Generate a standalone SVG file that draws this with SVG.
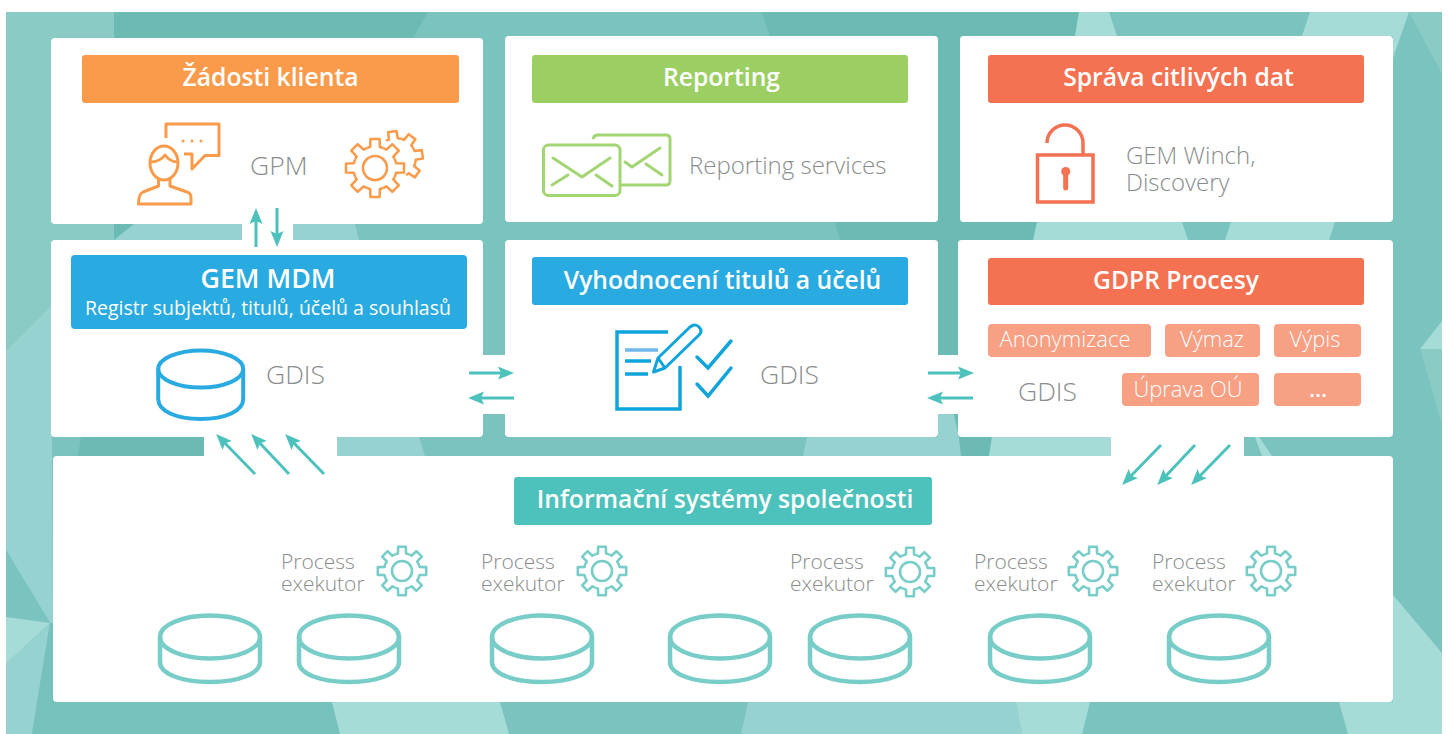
<svg xmlns="http://www.w3.org/2000/svg" xmlns:xlink="http://www.w3.org/1999/xlink" width="1448" height="734" viewBox="0 0 1448 734">
<style>
text{font-family:"Open Sans","Noto Sans","Liberation Sans",sans-serif}
.panel{fill:#fff}
.hd{font-size:24.700px;font-weight:600;fill:#fff;text-anchor:middle}
.hb{font-size:26.800px}
.sub{font-size:19.500px;fill:#fff;text-anchor:middle}
.pill{font-size:22px;fill:#fff;text-anchor:middle;font-weight:300}
.gr{font-size:26.500px;font-weight:300;fill:#8a8d8d}
.gs{font-size:24px}
.pr{font-size:21px;font-weight:300;fill:#8a8d8d}
.d{fill:#6cbab4}.m{fill:#8acbc6}.l{fill:#96d2cf}.x{fill:#a5dcd8}
.or{fill:none;stroke:#f99b4b;stroke-width:3;stroke-linejoin:round}
.gn{fill:none;stroke:#a3d572;stroke-width:3;stroke-linecap:round;stroke-linejoin:round}
.bl{fill:none;stroke:#0fa5dc;stroke-width:3.500;stroke-linejoin:miter}
.rd{fill:none;stroke:#f47152;stroke-width:3.500}
.db{fill:none;stroke:#78cdc8;stroke-width:4.500}
.tg{fill:none;stroke:#78cdc8;stroke-width:2.600;stroke-linejoin:round}
.ar{fill:none;stroke:#4dc1bb;stroke-width:3;marker-end:url(#head)}
</style>
<defs>
<marker id="head" markerUnits="userSpaceOnUse" markerWidth="18" markerHeight="16" viewBox="0 0 18 16" refX="8" refY="8" orient="auto"><path d="M0 1.500L16 8L0 14.500L3 8Z" fill="#4dc1bb"/></marker>
<path id="tooth" d="M-6.890-16.630A18 18 0 0 1-4.050-17.540L-3.830-24.200H3.830L4.050-17.540A18 18 0 0 1 6.890-16.630"/>
<g id="gear">
<use xlink:href="#tooth"/><use xlink:href="#tooth" transform="rotate(45)"/><use xlink:href="#tooth" transform="rotate(90)"/><use xlink:href="#tooth" transform="rotate(135)"/><use xlink:href="#tooth" transform="rotate(180)"/><use xlink:href="#tooth" transform="rotate(225)"/><use xlink:href="#tooth" transform="rotate(270)"/><use xlink:href="#tooth" transform="rotate(315)"/>
<circle r="10"/>
</g>
<g id="cyl"><ellipse cx="0" cy="0" rx="50" ry="21.500"/><path d="M-50 0V25C-50 37 -28 45 0 45S50 37 50 25V0"/></g>
</defs>
<g id="background">
<rect x="6" y="12" width="1436" height="722" fill="#7bc3bf"/>
<polygon class="m" points="6,12 114,12 114,240 52,305 6,351"/>
<polygon class="d" points="114,12 428,12 413,38 114,38"/>
<polygon class="d" points="114,224 134,224 114,240"/>
<polygon class="l" points="134,224 355,224 359,240 114,240"/>
<polygon class="l" points="6,351 52,305 52,456 53,623 50,623 6,550"/>
<polygon fill="#7bc3bf" points="6,550 50,623 6,617"/>
<polygon class="x" points="6,617 50,623 6,664"/>
<polygon class="l" points="6,664 50,623 32,734 6,734"/>
<polygon fill="#76c1bc" points="50,623 54,623 54,702 332,702 340,734 32,734"/>
<polygon class="d" points="81,437 204,437 204,456 78,456"/>
<polygon class="l" points="337,437 419,437 425,456 337,456"/>
<polygon class="x" points="332,702 500,702 509,734 340,734"/>
<polygon class="l" points="748,702 1016,702 1022,734 741,734"/>
<polygon class="x" points="1016,702 1090,702 1082,734 1022,734"/>
<polygon class="x" points="1393,595 1442,653 1442,734 1348,734 1339,702 1393,702"/>
<polygon class="d" points="762,12 1079,12 1075,36 770,36"/>
<polygon class="x" points="1079,12 1109,12 1117,36 1075,36"/>
<polygon class="x" points="1310,12 1409,12 1393,58 1393,36 1302,36"/>
<polygon class="m" points="1409,12 1442,12 1442,74"/>
<polygon class="x" points="1420,349 1442,321 1442,349"/>
<polygon class="m" points="1420,349 1442,349 1442,424"/>
<polygon class="d" points="938,36 960,36 960,240 958,240 958,414 938,414"/>
<polygon class="d" points="835,222 1037,222 1033,240 840,240"/>
<polygon class="x" points="1037,222 1182,222 1188,240 1033,240"/>
<polygon class="x" points="1231,222 1335,222 1329,240 1225,240"/>
<polygon class="l" points="807,437 959,437 961,456 803,456"/>
<polygon class="l" points="938,414 954,414 959,437 938,437"/>
<polygon class="d" points="954,414 958,414 959,437"/>
<polygon class="d" points="959,437 992,437 989,456 961,456"/>
<polygon class="x" points="992,437 1111,437 1111,456 989,456"/>
<polygon class="x" points="1255,437 1259,437 1272,456 1262,456"/>
</g>
<g id="panels">
<rect class="panel" x="51" y="38" width="432" height="186" rx="4"/>
<rect class="panel" x="505" y="36" width="433" height="186" rx="4"/>
<rect class="panel" x="960" y="36" width="433" height="186" rx="4"/>
<rect class="panel" x="51" y="240" width="432" height="197" rx="4"/>
<rect class="panel" x="505" y="240" width="433" height="197" rx="4"/>
<rect class="panel" x="958" y="240" width="435" height="197" rx="4"/>
<rect class="panel" x="53" y="456" width="1340" height="246" rx="4"/>
<rect class="panel" x="242" y="222" width="51" height="20"/>
<rect class="panel" x="481" y="355" width="26" height="59"/>
<rect class="panel" x="936" y="355" width="24" height="59"/>
<rect class="panel" x="204" y="435" width="133" height="23"/>
<rect class="panel" x="1111" y="435" width="133" height="23"/>
</g>
<g id="zadosti-klienta">
<rect x="82" y="55" width="377" height="48" rx="3" fill="#f99b4b"/>
<text class="hd" x="270.500" y="86">Žádosti klienta</text>
<path class="or" d="M166 138V124H219V155.500H205L192 169V154H184"/>
<path d="M183 141h.01M192 141h.01M201 141h.01" stroke="#f99b4b" stroke-width="3" stroke-linecap="round" fill="none"/>
<ellipse class="or" cx="164" cy="163" rx="14" ry="17"/>
<path class="or" d="M150 162Q160 162 165 155Q170 162 178 162"/>
<path class="or" d="M158.500 179V186L143 192Q138.500 194 138.500 204H191V198Q191 193 187 192L170 186V179"/>
<text class="gr" x="250" y="175">GPM</text>
<g class="or" transform="translate(396 158) scale(1.100)" style="stroke-width:2.300"><use xlink:href="#tooth" transform="rotate(-8)"/><use xlink:href="#tooth" transform="rotate(37)"/><use xlink:href="#tooth" transform="rotate(82)"/><use xlink:href="#tooth" transform="rotate(127)"/></g>
<circle cx="375" cy="168" r="29" fill="#fff"/>
<use xlink:href="#gear" class="or" transform="translate(375 168) scale(1.200)" style="stroke-width:2.100"/>
</g>
<g id="reporting">
<rect x="532" y="55" width="376" height="48" rx="3" fill="#9ccf63"/>
<text class="hd" x="721.500" y="86">Reporting</text>
<path class="gn" d="M593.500 138Q594 135 598 135H666Q670 135 670 139V181Q670 185 666 185H621"/>
<path class="gn" d="M625 162L632 167L660 148M646 164L662 175"/>
<rect class="gn" x="543.500" y="145" width="76.500" height="50.500" rx="5"/>
<path class="gn" d="M553 158L582 177L610 158M552 185L568 175M596 175L612 186"/>
<text class="gr gs" x="689" y="174">Reporting services</text>
</g>
<g id="sprava-citlivych-dat">
<rect x="988" y="55" width="376" height="48" rx="3" fill="#f47152"/>
<text class="hd" x="1178.500" y="86">Správa citlivých dat</text>
<rect class="rd" x="1037.500" y="155" width="55.500" height="47"/>
<path class="rd" d="M1047 143A18 18 0 0 1 1083 143V155"/>
<circle cx="1065.700" cy="171.500" r="4.500" fill="#f47152"/>
<path d="M1065.700 172V188" stroke="#f47152" stroke-width="5" stroke-linecap="round"/>
<text class="gr gs" x="1126" y="164">GEM Winch,</text>
<text class="gr gs" x="1126" y="191">Discovery</text>
</g>
<g id="gem-mdm">
<rect x="71" y="255" width="396" height="74" rx="4" fill="#29abe2"/>
<text class="hd hb" x="268" y="288">GEM MDM</text>
<text class="sub" x="268" y="315">Registr subjektů, titulů, účelů a souhlasů</text>
<ellipse cx="200.700" cy="369" rx="42.500" ry="18.500" fill="none" stroke="#29abe2" stroke-width="4"/>
<path d="M158.200 369V399C158.200 411 176 419 200.700 419S243.200 411 243.200 399V369" fill="none" stroke="#29abe2" stroke-width="4"/>
<text class="gr" x="266" y="384">GDIS</text>
</g>
<g id="vyhodnoceni">
<rect x="532" y="257" width="376" height="48" rx="3" fill="#29abe2"/>
<text class="hd" x="722.500" y="289">Vyhodnocení titulů a účelů</text>
<path class="bl" d="M668 332H617V409H680V366"/>
<path d="M625 350H658" stroke="#6fb7ec" stroke-width="3.500" fill="none"/>
<path d="M625 361H651M625 374H648" stroke="#0fa5dc" stroke-width="3.500" fill="none"/>
<path d="M653.500 372L658 358L690 327Q695 323 699 327T699 335L665 368ZM658 358L665 368" fill="none" stroke="#0fa5dc" stroke-width="3" stroke-linejoin="round"/>
<path d="M697 357L708 368L731 341M697 384L708 396L731 368" fill="none" stroke="#0fa5dc" stroke-width="3.500" stroke-linecap="round"/>
<text class="gr" x="760" y="384">GDIS</text>
</g>
<g id="gdpr-procesy">
<rect x="988" y="258" width="376" height="47" rx="3" fill="#f47152"/>
<text class="hd" x="1176" y="289">GDPR Procesy</text>
<rect x="988" y="324" width="163" height="33" rx="4" fill="#f7a083"/>
<text class="pill" x="1065" y="347">Anonymizace</text>
<rect x="1165" y="324" width="95" height="33" rx="4" fill="#f7a083"/>
<text class="pill" x="1212" y="347">Výmaz</text>
<rect x="1274" y="324" width="87" height="33" rx="4" fill="#f7a083"/>
<text class="pill" x="1315" y="347">Výpis</text>
<rect x="1122" y="373" width="137" height="33" rx="4" fill="#f7a083"/>
<text class="pill" x="1188" y="397">Úprava OÚ</text>
<rect x="1274" y="373" width="87" height="33" rx="4" fill="#f7a083"/>
<text class="pill" x="1318" y="397" style="font-weight:600">...</text>
<text class="gr" x="1018" y="401">GDIS</text>
</g>
<g id="informacni-systemy">
<rect x="514" y="477" width="418" height="48" rx="3" fill="#4dc1bb"/>
<text class="hd" x="725" y="508">Informační systémy společnosti</text>
<text class="pr" x="281" y="569">Process</text><text class="pr" x="281" y="591">exekutor</text>
<text class="pr" x="481" y="569">Process</text><text class="pr" x="481" y="591">exekutor</text>
<text class="pr" x="790" y="569">Process</text><text class="pr" x="790" y="591">exekutor</text>
<text class="pr" x="974" y="569">Process</text><text class="pr" x="974" y="591">exekutor</text>
<text class="pr" x="1152" y="569">Process</text><text class="pr" x="1152" y="591">exekutor</text>
<use xlink:href="#gear" class="tg" transform="translate(402 571)"/>
<use xlink:href="#gear" class="tg" transform="translate(602 571)"/>
<use xlink:href="#gear" class="tg" transform="translate(910 572)"/>
<use xlink:href="#gear" class="tg" transform="translate(1093 571)"/>
<use xlink:href="#gear" class="tg" transform="translate(1271 571)"/>
<use xlink:href="#cyl" class="db" transform="translate(210 637)"/>
<use xlink:href="#cyl" class="db" transform="translate(349 637)"/>
<use xlink:href="#cyl" class="db" transform="translate(542 637)"/>
<use xlink:href="#cyl" class="db" transform="translate(720 637)"/>
<use xlink:href="#cyl" class="db" transform="translate(860 637)"/>
<use xlink:href="#cyl" class="db" transform="translate(1040 637)"/>
<use xlink:href="#cyl" class="db" transform="translate(1219 637)"/>
</g>
<g id="connectors">
<path class="ar" d="M256 247V216"/>
<path class="ar" d="M277 208V239"/>
<path class="ar" d="M469 373H506"/>
<path class="ar" d="M514 398H476"/>
<path class="ar" d="M928 373H966"/>
<path class="ar" d="M973 398H935"/>
<path class="ar" d="M255 474L221.700 439.700"/>
<path class="ar" d="M289 474L256.700 439.700"/>
<path class="ar" d="M324 474L290.700 439.700"/>
<path class="ar" d="M1161 445L1127.700 479.300"/>
<path class="ar" d="M1195 445L1162.700 479.300"/>
<path class="ar" d="M1230 445L1196.700 479.300"/>
</g>
</svg>
